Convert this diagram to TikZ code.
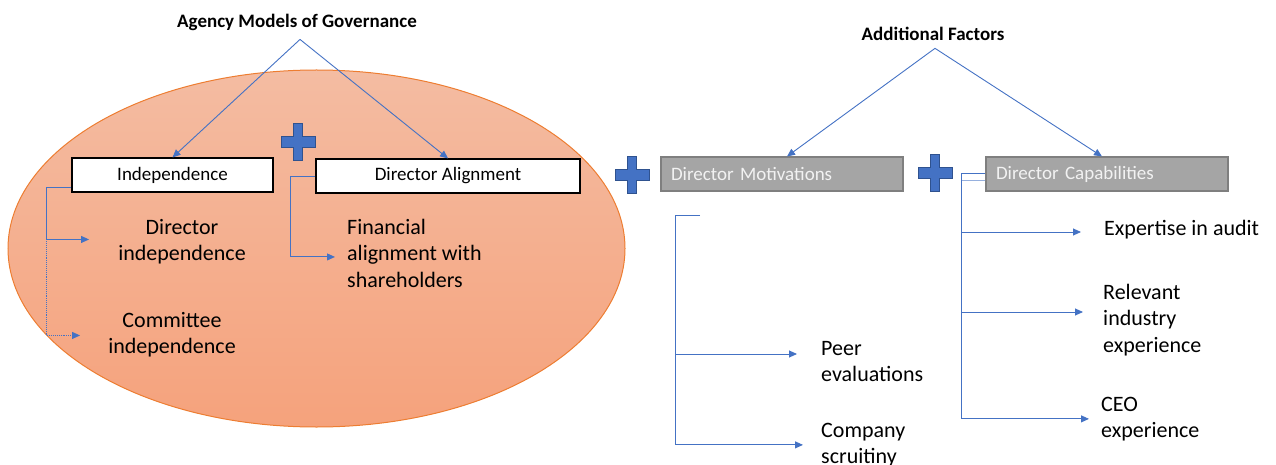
\documentclass[tikz,border=0pt]{standalone}
\usepackage{fontspec}
\setmainfont{Carlito}
\usetikzlibrary{arrows.meta, positioning, calc}
\definecolor{LinkBlue}{RGB}{68, 114, 196}
\definecolor{LinkPale}{RGB}{150, 176, 222}
\definecolor{CrossEdge}{RGB}{47, 82, 143}
\definecolor{OvalTop}{RGB}{244, 188, 162}
\definecolor{OvalBottom}{RGB}{245, 162, 124}
\definecolor{OvalEdge}{RGB}{237, 125, 49}
\definecolor{BoxGray}{RGB}{165, 165, 165}
\definecolor{BoxEdge}{RGB}{127, 127, 127}
\definecolor{BoxText}{RGB}{242, 242, 242}
\tikzstyle{heading} = [font=\fontsize{19}{23}\selectfont\bfseries, inner sep=2pt]
\tikzstyle{whitebox} = [rectangle, draw=black, fill=white, line width=1.1pt, minimum height=34pt, font=\fontsize{19}{23}\selectfont]
\tikzstyle{graybox} = [rectangle, draw=BoxEdge, fill=BoxGray, line width=1.1pt, minimum height=34pt, text width=222pt, inner xsep=10pt, align=left, text=BoxText, font=\fontsize{19}{23}\selectfont]
\tikzstyle{item} = [font=\fontsize{22}{26.5}\selectfont, inner sep=0pt]
\tikzstyle{arrow} = [-{Triangle[length=8pt, width=7pt]}, line width=0.9pt, LinkBlue]
\tikzstyle{plusmark} = [fill=LinkBlue, draw=CrossEdge, line width=0.8pt]

\begin{document}
\begin{tikzpicture}[x=1pt, y=-1pt]
\useasboundingbox (0,0) rectangle (1276,465);

% Shaded oval behind the agency models
\path[draw=OvalEdge, line width=1pt, top color=OvalTop, bottom color=OvalBottom]
    (316.5,248.5) ellipse [x radius=308.5, y radius=178.5];

% Headings
\node (agency) [heading, anchor=base] at (297,28) {Agency Models of Governance};
\node (factors) [heading, anchor=base] at (933,41) {Additional Factors};

% Main boxes
\node (indep) [whitebox, minimum width=201pt] at (172.5,175) {Independence};
\node (align) [whitebox, minimum width=264pt] at (448,176) {Director Alignment};
\node (motiv) [graybox] at (782,174) {Director Motivations};
\node (capab) [graybox] at (1107,174) {Director Capabilities};

% Plus signs between the groups
\foreach \px/\py in {298/142, 632/175, 935/173}
{
    \begin{scope}[shift={(\px,\py)}]
        \draw[plusmark] (-4.5,-18.5) -- (4.5,-18.5) -- (4.5,-5.5) -- (17,-5.5) -- (17,5.5)
            -- (4.5,5.5) -- (4.5,18.5) -- (-4.5,18.5) -- (-4.5,5.5) -- (-17,5.5)
            -- (-17,-5.5) -- (-4.5,-5.5) -- cycle;
    \end{scope}
}

% Item texts (base = last line)
\node (dirind) [item, align=center, anchor=base] at (182,260.5) {Director\\independence};
\node (comind) [item, align=center, anchor=base] at (172,353.5) {Committee\\independence};
\node (finalign) [item, align=left, anchor=base west] at (347,287) {Financial\\alignment with\\shareholders};
\node (peer) [item, align=left, anchor=base west] at (821,381.5) {Peer\\evaluations};
\node (company) [item, align=left, anchor=base west] at (821,463.5) {Company\\scruitiny};
\node (expert) [item, anchor=base west] at (1104,235) {Expertise in audit};
\node (relevant) [item, align=left, anchor=base west] at (1103,352) {Relevant\\industry\\experience};
\node (ceo) [item, align=left, anchor=base west] at (1101,437.5) {CEO\\experience};

% Heading arrows
\draw [arrow] ($(agency.south)+(3,6)$) -- (indep.north);
\draw [arrow] ($(agency.south)+(3,6)$) -- (align.north);
\draw [arrow] ($(factors.south)+(2,5)$) -- ($(motiv.north)+(5,0)$);
\draw [arrow] ($(factors.south)+(2,5)$) -- ($(capab.north)+(-5,0)$);

% Independence branches
\draw [arrow] ($(indep.south west)+(0,-5)$) -- ++(-25,0) coordinate (indtrunk)
    |- ($(dirind.west)+(-29,-2)$);
\draw [arrow, densely dotted] (indtrunk |- dirind.west) ++(0,-2) |- ($(comind.west)+(-28,1)$);

% Alignment branch
\draw [arrow] (align.west) -- ++(-25,0) |- ($(finalign.west)+(-12,4)$);

% Motivation bracket
\coordinate (motivstub) at (700,215);
\draw [arrow] (motivstub) -- ++(-25,0) coordinate (motivtrunk) |- ($(company.west)+(-18,0)$);
\draw [arrow] (motivtrunk |- 0,354) -- ($(peer.west |- 0,354)+(-24,0)$);

% Capability branches
\draw [LinkPale, line width=0.9pt] ($(capab.west)+(0,6)$) -- ++(-24,0);
\draw [arrow] ($(capab.west)+(0,-1)$) -- ++(-24,0) coordinate (captrunk) |- ($(ceo.west)+(-12,0)$);
\draw [arrow] (captrunk |- 0,232) -- ($(expert.west |- 0,232)+(-23,0)$);
\draw [arrow] (captrunk |- 0,312) -- ($(relevant.west |- 0,312)+(-20,0)$);

\end{tikzpicture}
\end{document}
